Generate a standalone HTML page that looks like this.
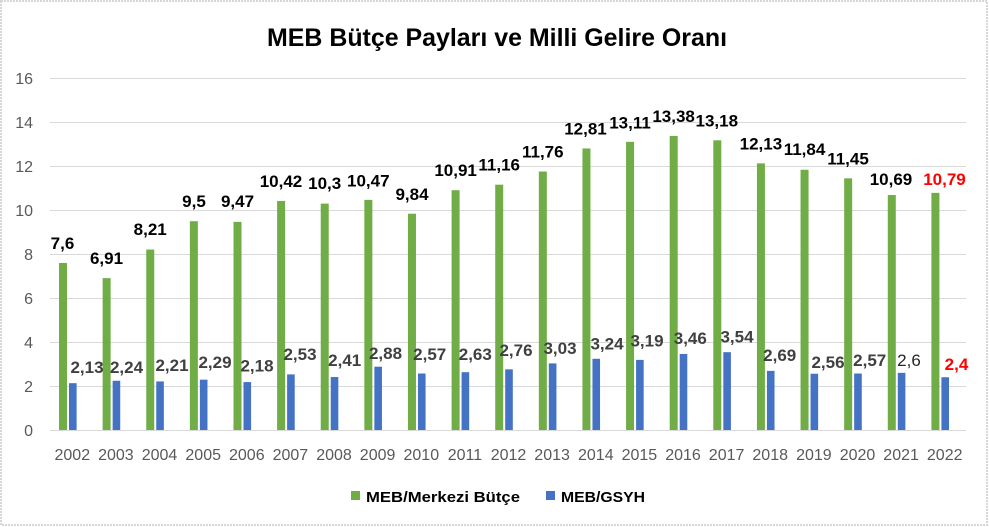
<!DOCTYPE html>
<html>
<head>
<meta charset="utf-8">
<style>
  html, body { margin:0; padding:0; background:#fff; }
  svg { display:block; }
  .yt { font-family:"Liberation Sans", sans-serif; font-size:16px; fill:#595959; text-anchor:end; }
  .xt { font-family:"Liberation Sans", sans-serif; font-size:16px; fill:#595959; text-anchor:middle; }
  .gl { font-family:"Liberation Sans", sans-serif; font-size:17px; font-weight:bold; fill:#000; text-anchor:middle; }
  .bl { font-family:"Liberation Sans", sans-serif; font-size:17px; font-weight:bold; fill:#404040; text-anchor:middle; }
</style>
</head>
<body>
<svg width="989" height="527" viewBox="0 0 989 527" xmlns="http://www.w3.org/2000/svg">
  <rect x="0" y="0" width="989" height="527" fill="#fff"/>
  <!-- border -->
  <rect x="1" y="1" width="986" height="524" fill="none" stroke="#d6d6d6" stroke-width="2" stroke-dasharray="2 1"/>

  <!-- title -->
  <text x="497" y="46" font-family="Liberation Sans, sans-serif" font-size="25" font-weight="bold" fill="#000" text-anchor="middle" textLength="460" lengthAdjust="spacingAndGlyphs">MEB Bütçe Payları  ve Milli Gelire Oranı</text>

  <!-- gridlines -->
  <g stroke="#d9d9d9" stroke-width="1">
    <line x1="50" y1="78.5" x2="966" y2="78.5"/>
    <line x1="50" y1="122.5" x2="966" y2="122.5"/>
    <line x1="50" y1="166.5" x2="966" y2="166.5"/>
    <line x1="50" y1="210.5" x2="966" y2="210.5"/>
    <line x1="50" y1="254.5" x2="966" y2="254.5"/>
    <line x1="50" y1="298.5" x2="966" y2="298.5"/>
    <line x1="50" y1="342.5" x2="966" y2="342.5"/>
    <line x1="50" y1="386.5" x2="966" y2="386.5"/>
  </g>

  <!-- y tick labels -->
  <text class="yt" x="33" y="84">16</text>
  <text class="yt" x="33" y="128">14</text>
  <text class="yt" x="33" y="172">12</text>
  <text class="yt" x="33" y="216">10</text>
  <text class="yt" x="33" y="260">8</text>
  <text class="yt" x="33" y="304">6</text>
  <text class="yt" x="33" y="348">4</text>
  <text class="yt" x="33" y="392">2</text>
  <text class="yt" x="33" y="436">0</text>

  <!-- green bars -->
  <g fill="#70ad47">
    <rect x="59.01" y="262.95" width="8" height="167.55"/>
    <rect x="102.63" y="278.12" width="8" height="152.38"/>
    <rect x="146.25" y="249.54" width="8" height="180.96"/>
    <rect x="189.87" y="221.19" width="8" height="209.31"/>
    <rect x="233.49" y="221.85" width="8" height="208.65"/>
    <rect x="277.11" y="200.97" width="8" height="229.53"/>
    <rect x="320.73" y="203.61" width="8" height="226.89"/>
    <rect x="364.35" y="199.87" width="8" height="230.63"/>
    <rect x="407.97" y="213.72" width="8" height="216.78"/>
    <rect x="451.59" y="190.20" width="8" height="240.30"/>
    <rect x="495.21" y="184.70" width="8" height="245.80"/>
    <rect x="538.83" y="171.52" width="8" height="258.98"/>
    <rect x="582.45" y="148.44" width="8" height="282.06"/>
    <rect x="626.07" y="141.84" width="8" height="288.66"/>
    <rect x="669.69" y="135.91" width="8" height="294.59"/>
    <rect x="713.31" y="140.30" width="8" height="290.20"/>
    <rect x="756.93" y="163.38" width="8" height="267.12"/>
    <rect x="800.55" y="169.76" width="8" height="260.74"/>
    <rect x="844.17" y="178.33" width="8" height="252.17"/>
    <rect x="887.79" y="195.03" width="8" height="235.47"/>
    <rect x="931.41" y="192.84" width="8" height="237.66"/>
  </g>

  <!-- blue bars -->
  <g fill="#4472c4">
    <rect x="69.01" y="383.18" width="7.6" height="47.32"/>
    <rect x="112.63" y="380.76" width="7.6" height="49.74"/>
    <rect x="156.25" y="381.42" width="7.6" height="49.08"/>
    <rect x="199.87" y="379.67" width="7.6" height="50.83"/>
    <rect x="243.49" y="382.08" width="7.6" height="48.42"/>
    <rect x="287.11" y="374.39" width="7.6" height="56.11"/>
    <rect x="330.73" y="377.03" width="7.6" height="53.47"/>
    <rect x="374.35" y="366.70" width="7.6" height="63.80"/>
    <rect x="417.97" y="373.51" width="7.6" height="56.99"/>
    <rect x="461.59" y="372.19" width="7.6" height="58.31"/>
    <rect x="505.21" y="369.34" width="7.6" height="61.16"/>
    <rect x="548.83" y="363.40" width="7.6" height="67.10"/>
    <rect x="592.45" y="358.78" width="7.6" height="71.72"/>
    <rect x="636.07" y="359.88" width="7.6" height="70.62"/>
    <rect x="679.69" y="353.95" width="7.6" height="76.55"/>
    <rect x="723.31" y="352.19" width="7.6" height="78.31"/>
    <rect x="766.93" y="370.87" width="7.6" height="59.63"/>
    <rect x="810.55" y="373.73" width="7.6" height="56.77"/>
    <rect x="854.17" y="373.51" width="7.6" height="56.99"/>
    <rect x="897.79" y="372.85" width="7.6" height="57.65"/>
    <rect x="941.41" y="377.25" width="7.6" height="53.25"/>
  </g>

  <!-- x axis line -->
  <line x1="50" y1="430.5" x2="966" y2="430.5" stroke="#d9d9d9" stroke-width="1"/>

  <!-- x tick labels -->
  <g class="xt">
    <text class="xt" x="72.3" y="460">2002</text>
    <text class="xt" x="115.9" y="460">2003</text>
    <text class="xt" x="159.5" y="460">2004</text>
    <text class="xt" x="203.2" y="460">2005</text>
    <text class="xt" x="246.8" y="460">2006</text>
    <text class="xt" x="290.4" y="460">2007</text>
    <text class="xt" x="334.0" y="460">2008</text>
    <text class="xt" x="377.6" y="460">2009</text>
    <text class="xt" x="421.3" y="460">2010</text>
    <text class="xt" x="464.9" y="460">2011</text>
    <text class="xt" x="508.5" y="460">2012</text>
    <text class="xt" x="552.1" y="460">2013</text>
    <text class="xt" x="595.8" y="460">2014</text>
    <text class="xt" x="639.4" y="460">2015</text>
    <text class="xt" x="683.0" y="460">2016</text>
    <text class="xt" x="726.6" y="460">2017</text>
    <text class="xt" x="770.2" y="460">2018</text>
    <text class="xt" x="813.9" y="460">2019</text>
    <text class="xt" x="857.5" y="460">2020</text>
    <text class="xt" x="901.1" y="460">2021</text>
    <text class="xt" x="944.7" y="460">2022</text>
  </g>

  <!-- green data labels -->
  <text class="gl" x="62.5" y="249">7,6</text>
  <text class="gl" x="106.5" y="264">6,91</text>
  <text class="gl" x="150.2" y="235">8,21</text>
  <text class="gl" x="194" y="207">9,5</text>
  <text class="gl" x="237.5" y="207">9,47</text>
  <text class="gl" x="281" y="187">10,42</text>
  <text class="gl" x="324.7" y="189">10,3</text>
  <text class="gl" x="368.3" y="186.5">10,47</text>
  <text class="gl" x="412" y="200">9,84</text>
  <text class="gl" x="455.6" y="176">10,91</text>
  <text class="gl" x="499.2" y="170.5">11,16</text>
  <text class="gl" x="542.8" y="157.5">11,76</text>
  <text class="gl" x="585.5" y="134.5">12,81</text>
  <text class="gl" x="630" y="128.5">13,11</text>
  <text class="gl" x="673.6" y="122">13,38</text>
  <text class="gl" x="716.8" y="126.5">13,18</text>
  <text class="gl" x="760.9" y="149.4">12,13</text>
  <text class="gl" x="804.5" y="155">11,84</text>
  <text class="gl" x="848" y="164.3">11,45</text>
  <text class="gl" x="891" y="185">10,69</text>
  <text class="gl" x="944.5" y="185" style="fill:#ff0000">10,79</text>

  <!-- blue data labels -->
  <text class="bl" x="87" y="373">2,13</text>
  <text class="bl" x="126.5" y="373">2,24</text>
  <text class="bl" x="172" y="371">2,21</text>
  <text class="bl" x="215" y="368">2,29</text>
  <text class="bl" x="257" y="371.7">2,18</text>
  <text class="bl" x="300" y="360">2,53</text>
  <text class="bl" x="344.7" y="366">2,41</text>
  <text class="bl" x="385.5" y="359">2,88</text>
  <text class="bl" x="429.7" y="360">2,57</text>
  <text class="bl" x="475.3" y="360">2,63</text>
  <text class="bl" x="516" y="356">2,76</text>
  <text class="bl" x="560" y="354">3,03</text>
  <text class="bl" x="607" y="349.5">3,24</text>
  <text class="bl" x="647" y="346.5">3,19</text>
  <text class="bl" x="690.3" y="344">3,46</text>
  <text class="bl" x="737" y="342.5">3,54</text>
  <text class="bl" x="779.7" y="361">2,69</text>
  <text class="bl" x="828" y="368">2,56</text>
  <text class="bl" x="869.7" y="366">2,57</text>
  <text class="bl" x="909" y="366" style="font-weight:normal;fill:#262626">2,6</text>
  <text class="bl" x="956.5" y="370" style="fill:#ff0000">2,4</text>

  <!-- legend -->
  <rect x="351" y="491" width="9" height="9" fill="#70ad47"/>
  <text x="366" y="502" font-family="Liberation Sans, sans-serif" font-size="15" font-weight="bold" fill="#000" textLength="154" lengthAdjust="spacingAndGlyphs">MEB/Merkezi Bütçe</text>
  <rect x="546" y="491" width="9" height="9" fill="#4472c4"/>
  <text x="561" y="502" font-family="Liberation Sans, sans-serif" font-size="15" font-weight="bold" fill="#000" textLength="84" lengthAdjust="spacingAndGlyphs">MEB/GSYH</text>
</svg>
</body>
</html>
